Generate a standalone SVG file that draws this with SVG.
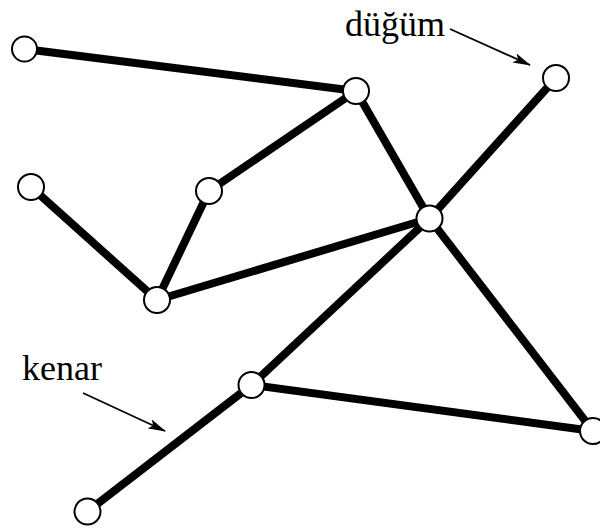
<svg xmlns="http://www.w3.org/2000/svg" width="600" height="530" viewBox="0 0 600 530">
<style>
.e{stroke:#000;stroke-width:8;stroke-linecap:butt;fill:none}
.n{fill:#fff;stroke:#000;stroke-width:2}
.t{font-family:"Liberation Serif",serif;font-size:36px;fill:#000}
.a{stroke:#000;stroke-width:1.8;fill:none}
</style>
<defs>
<marker id="ah" markerWidth="18" markerHeight="10" refX="17" refY="5" orient="auto" markerUnits="userSpaceOnUse" viewBox="0 0 18 10">
<path d="M0,0 L18,5 L0,10 L4,5 Z" fill="#000"/>
</marker>
</defs>
<rect width="600" height="530" fill="#fff"/>
<g id="connectors">
<line class="e" x1="24.5" y1="49" x2="356" y2="91"/>
<line class="e" x1="356" y1="91" x2="209" y2="191"/>
<line class="e" x1="356" y1="91" x2="429.5" y2="218.5"/>
<line class="e" x1="209" y1="191" x2="157" y2="300"/>
<line class="e" x1="31" y1="187" x2="157" y2="300"/>
<line class="e" x1="157" y1="300" x2="429.5" y2="218.5"/>
<line class="e" x1="556" y1="78" x2="429.5" y2="218.5"/>
<line class="e" x1="429.5" y1="218.5" x2="251.5" y2="385"/>
<line class="e" x1="429.5" y1="218.5" x2="593" y2="431"/>
<line class="e" x1="251.5" y1="385" x2="593" y2="431"/>
<line class="e" x1="251.5" y1="385" x2="87.5" y2="511.5"/>
<line class="a" x1="450" y1="29" x2="530" y2="65" marker-end="url(#ah)"/>
<line class="a" x1="83" y1="393" x2="165" y2="431" marker-end="url(#ah)"/>
</g>
<g id="nA"><circle class="n" cx="24.5" cy="49" r="12.5"/></g>
<g id="nB"><circle class="n" cx="356" cy="91" r="13"/></g>
<g id="nC"><circle class="n" cx="556" cy="78" r="13"/></g>
<g id="nD"><circle class="n" cx="209" cy="191" r="13"/></g>
<g id="nE"><circle class="n" cx="31" cy="187" r="13"/></g>
<g id="nF"><circle class="n" cx="429.5" cy="218.5" r="13"/></g>
<g id="nG"><circle class="n" cx="157" cy="300" r="13"/></g>
<g id="nH"><circle class="n" cx="251.5" cy="385" r="13"/></g>
<g id="nI"><circle class="n" cx="593" cy="431" r="13"/></g>
<g id="nJ"><circle class="n" cx="87.5" cy="511.5" r="13"/></g>
<g id="labels">
<text class="t" x="345" y="36">düğüm</text>
<text class="t" x="22" y="380">kenar</text>
</g>
</svg>
